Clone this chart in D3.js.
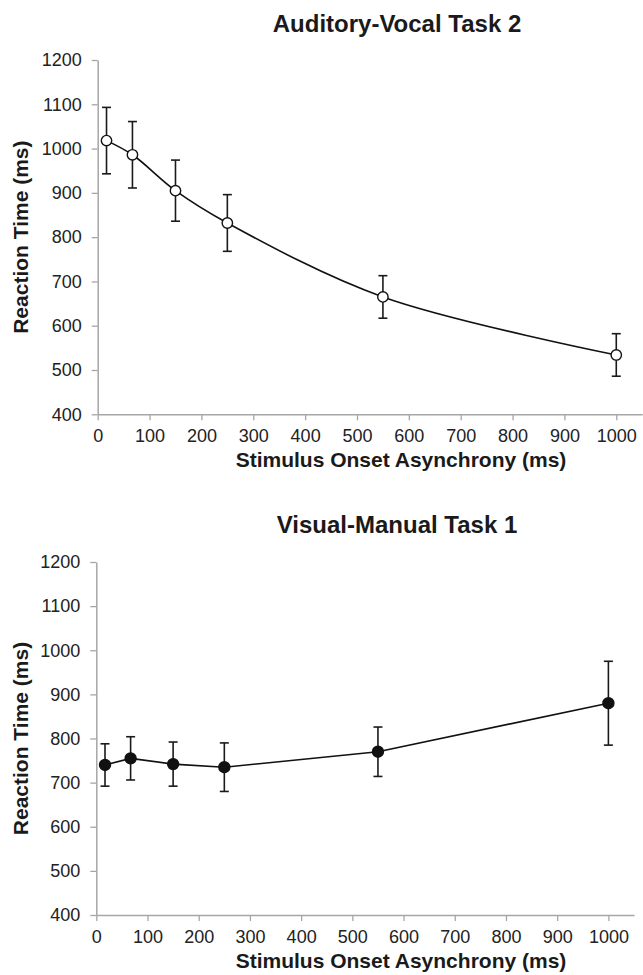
<!DOCTYPE html>
<html>
<head>
<meta charset="utf-8">
<script src="https://cdn.jsdelivr.net/npm/d3@7"></script>
<style>
  html, body { margin: 0; padding: 0; background: #fff; }
  svg { display: block; font-family: "Liberation Sans", Arial, Helvetica, sans-serif; }
</style>
</head>
<body>
<svg id="chart" width="643" height="975"></svg>
<script>
// ---- data ----
const soa = [17, 67, 150, 250, 550, 1000];
const audMean = [1018, 986, 905, 832, 665, 534];
const audErr  = [75, 75, 69, 64, 48, 48];
const visMean = [740, 755, 742, 735, 770, 880];
const visErr  = [48, 49, 50, 55, 56, 95];
const xTicks = [0, 100, 200, 300, 400, 500, 600, 700, 800, 900, 1000];
const yTicks = [400, 500, 600, 700, 800, 900, 1000, 1100, 1200];
const titles = ["Auditory-Vocal Task 2", "Visual-Manual Task 1"];
const xTitle = "Stimulus Onset Asynchrony (ms)";
const yTitle = "Reaction Time (ms)";

const svg = d3.select("#chart");

const panels = [
  { title: titles[0], mean: audMean, err: audErr, filled: false, smooth: true,
    x0: 97.7, x1: 642.2, yTop: 60, yBot: 414.3, titleY: 31.5 },
  { title: titles[1], mean: visMean, err: visErr, filled: true, smooth: false,
    x0: 96.3, x1: 634, yTop: 562, yBot: 915, titleY: 533 }
];

const fmt = d3.format("d");

panels.forEach(p => {
  const g = svg.append("g");
  const x = d3.scaleLinear().domain([0, 1050]).range([p.x0, p.x1]);
  const y = d3.scaleLinear().domain([400, 1200]).range([p.yBot, p.yTop]);

  // x axis
  const xa = g.append("g").attr("transform", `translate(0,${p.yBot})`)
    .call(d3.axisBottom(x).tickValues(xTicks).tickFormat(fmt).tickSize(6).tickPadding(9).tickSizeOuter(0));
  // y axis
  const ya = g.append("g").attr("transform", `translate(${p.x0},0)`)
    .call(d3.axisLeft(y).tickValues(yTicks).tickFormat(fmt).tickSize(6).tickPadding(10).tickSizeOuter(0));
  [xa, ya].forEach(a => {
    a.select(".domain").attr("stroke", "#a6a6a6").attr("stroke-width", 1.5);
    a.selectAll(".tick line").attr("stroke", "#a6a6a6").attr("stroke-width", 1.3);
    a.selectAll(".tick text").attr("fill", "#222").style("font-size", "18px")
      .style("font-family", "'Liberation Sans', Arial, sans-serif");
  });

  // titles
  g.append("text").attr("x", 397).attr("y", p.titleY).attr("text-anchor", "middle")
    .style("font-size", "24px").style("font-weight", "bold").attr("fill", "#1a1a1a")
    .text(p.title);
  g.append("text").attr("x", 401).attr("y", p.yBot + 53).attr("text-anchor", "middle")
    .style("font-size", "21px").style("font-weight", "bold").attr("fill", "#1a1a1a")
    .text(xTitle);
  g.append("text")
    .attr("transform", `translate(28,${(p.yTop + p.yBot) / 2}) rotate(-90)`)
    .attr("text-anchor", "middle")
    .style("font-size", "21px").style("font-weight", "bold").attr("fill", "#1a1a1a")
    .text(yTitle);

  const pts = soa.map((s, i) => ({ s, m: p.mean[i], e: p.err[i] }));

  // error bars
  const eb = g.append("g").attr("stroke", "#1a1a1a").attr("stroke-width", 1.6).attr("fill", "none");
  pts.forEach(d => {
    const cx = x(d.s), yt = y(d.m + d.e), yb = y(d.m - d.e);
    eb.append("line").attr("x1", cx).attr("x2", cx).attr("y1", yt).attr("y2", yb);
    eb.append("line").attr("x1", cx - 4.5).attr("x2", cx + 4.5).attr("y1", yt).attr("y2", yt);
    eb.append("line").attr("x1", cx - 4.5).attr("x2", cx + 4.5).attr("y1", yb).attr("y2", yb);
  });

  // line
  const line = d3.line().x(d => x(d.s)).y(d => y(d.m))
    .curve(p.smooth ? d3.curveCatmullRom.alpha(0.5) : d3.curveLinear);
  g.append("path").datum(pts).attr("d", line)
    .attr("fill", "none").attr("stroke", "#111").attr("stroke-width", 1.6);

  // markers
  g.append("g").selectAll("circle").data(pts).join("circle")
    .attr("cx", d => x(d.s)).attr("cy", d => y(d.m))
    .attr("r", p.filled ? 5.5 : 5.2)
    .attr("fill", p.filled ? "#111" : "#fff")
    .attr("stroke", "#111").attr("stroke-width", 1.4);
});
</script>
</body>
</html>
